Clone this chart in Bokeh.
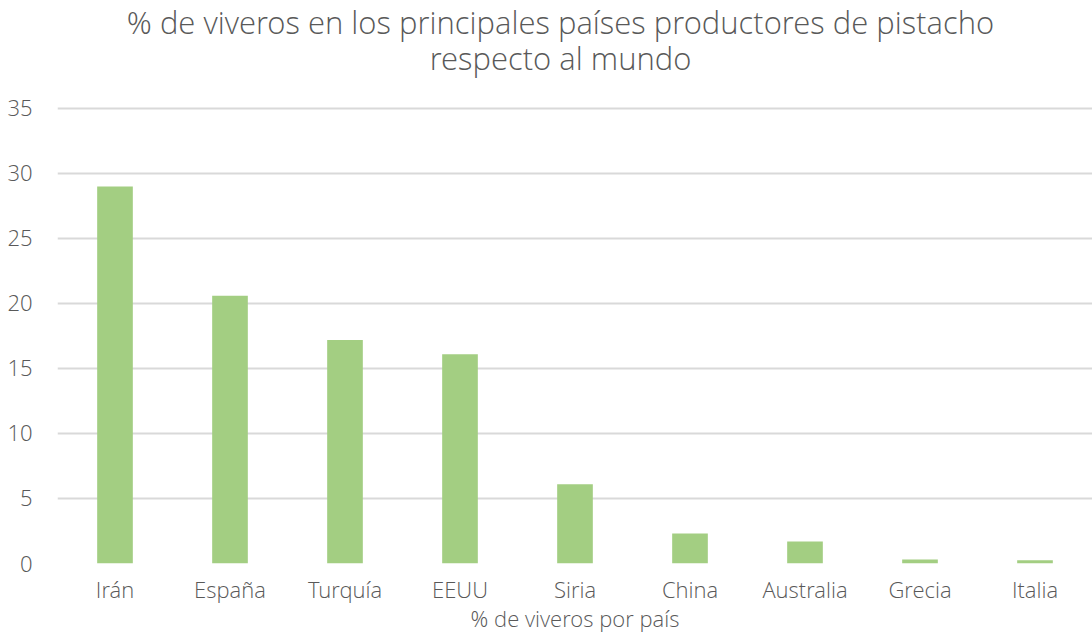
from bokeh.plotting import figure
from bokeh.models import ColumnDataSource, FixedTicker, Range1d, Label
from bokeh.embed import file_html
from bokeh.resources import INLINE

paises = ["Irán", "España", "Turquía", "EEUU", "Siria", "China", "Australia", "Grecia", "Italia"]
porcentaje = [29.0, 20.6, 17.2, 16.1, 6.1, 2.3, 1.7, 0.3, 0.25]
ticks_y = [0, 5, 10, 15, 20, 25, 30, 35]
titulo_1 = "% de viveros en los principales países productores de pistacho"
titulo_2 = "respecto al mundo"

FONT = "'Open Sans Light', 'Open Sans'"
TXT = "#595959"

src = ColumnDataSource(data=dict(pais=paises, valor=porcentaje))

# frame extends above 35 so the title lines can sit inside it (grid only at ticks)
p = figure(x_range=paises, y_range=Range1d(0, 42.92), width=1092, height=635,
           output_backend="svg", toolbar_location=None,
           min_border_left=57, min_border_right=0, min_border_bottom=0, min_border_top=5)

p.vbar(x="pais", top="valor", width=0.31, source=src, color="#A3CE82", line_color=None)

for t, yv in [(titulo_1, 41.65), (titulo_2, 38.9)]:
    p.add_layout(Label(x=4.374, y=yv, text=t, text_align="center", text_baseline="middle",
                       text_font=FONT, text_font_size="31px", text_color=TXT))

p.outline_line_color = None
p.xgrid.grid_line_color = None
p.ygrid.grid_line_color = "#D9D9D9"
p.ygrid.grid_line_width = 2
p.yaxis.ticker = FixedTicker(ticks=ticks_y)

for ax in (p.xaxis, p.yaxis):
    ax.axis_line_color = None
    ax.major_tick_line_color = None
    ax.minor_tick_line_color = None
    ax.major_label_text_font = FONT
    ax.major_label_text_font_size = "22px"
    ax.major_label_text_color = TXT

p.yaxis.major_label_standoff = 19
p.xaxis.major_label_standoff = 4
p.xaxis.axis_label = "% de viveros por país"
p.xaxis.axis_label_text_font = FONT
p.xaxis.axis_label_text_font_size = "22px"
p.xaxis.axis_label_text_font_style = "normal"
p.xaxis.axis_label_text_color = TXT
p.xaxis.axis_label_standoff = -4

open("out.html", "w").write(file_html(p, INLINE))
